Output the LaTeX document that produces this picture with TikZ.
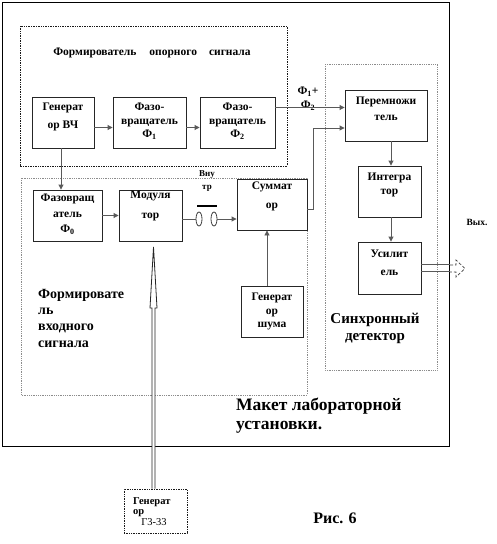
\documentclass[tikz,border=0pt]{standalone}
\usepackage{fontspec}
\setmainfont{Liberation Serif}
\usetikzlibrary{arrows.meta,shapes.geometric,calc}
\begin{document}
\begin{tikzpicture}[x=1pt,y=-1pt,
  box/.style={draw=black!85, line width=0.9pt, inner sep=0pt, fill=white},
  btxt/.style={font=\fontsize{11.5}{#1}\selectfont\bfseries, align=center, inner sep=0pt},
  btxt/.default=15,
  conn/.style={draw=black!65, line width=0.9pt},
  arr/.style={conn, -{Triangle[length=5pt,width=5pt]}},
  dotgray/.style={draw=black!45, densely dotted, line width=0.8pt},
  dotblack/.style={draw=black!90, densely dotted, line width=0.7pt},
  lbl/.style={font=\fontsize{#1}{#1}\selectfont\bfseries, inner sep=0pt}
]
\useasboundingbox (0,0) rectangle (497,544);
\fill[white] (0,0) rectangle (497,544);

% outer frame and group frames
\draw[black, line width=0.9pt] (2,2) rectangle (449,446);
\draw[dotblack] (20,26) rectangle (287,166);
\draw[dotgray] (21,178) rectangle (307,395);
\draw[dotgray] (325,64) rectangle (437,370);

% titles
\node[lbl=11.5] (ttop) at (152,53) {Формирователь\hspace{13pt}опорного\hspace{12pt}сигнала};
\node[align=left, anchor=north west, inner sep=0pt, font=\fontsize{14}{16.3}\selectfont\bfseries] (tin) at (38,289) {Формировате\\ль\\входного\\сигнала};
\node[align=center, inner sep=0pt, font=\fontsize{15}{17}\selectfont\bfseries] (tsd) at (375,328) {Синхронный\\детектор};
\node[align=left, anchor=north west, inner sep=0pt, font=\fontsize{17.5}{19}\selectfont\bfseries] (tmk) at (236,398) {Макет лабораторной\\установки.};
\node[lbl=16] (fig) at (335,518) {Рис. 6};
\node[lbl=9.5] (out) at (477,222) {Вых.};

% top group
\node[box, minimum width=62pt, minimum height=51pt,
  label={[btxt=18, name=gvcht, yshift=5.5pt]center:{Генерат\\ор ВЧ}}] (gvch) at (63,122.5) {};
\node[box, minimum width=73pt, minimum height=51pt,
  label={[btxt=13.5, name=f1t, yshift=1pt]center:{Фазо-\\вращатель\\Ф\textsubscript{1}}}] (f1) at (149.5,122.5) {};
\node[box, minimum width=75pt, minimum height=51pt,
  label={[btxt=13.5, name=f2t, yshift=1pt]center:{Фазо-\\вращатель\\Ф\textsubscript{2}}}] (f2) at (237.5,122.5) {};

% synchronous detector
\node[box, minimum width=82pt, minimum height=51pt,
  label={[btxt=16, name=multt, yshift=6.5pt]center:{Перемножи\\тель}}] (mult) at (386,115.5) {};
\node[box, minimum width=63pt, minimum height=51pt,
  label={[btxt=14, name=integt, yshift=6.5pt]center:{Интегра\\тор}}] (integ) at (389.5,191.5) {};
\node[box, minimum width=63pt, minimum height=52pt,
  label={[btxt=18, name=ampt, yshift=5pt]center:{Усилит\\ель}}] (amp) at (389.5,268) {};

% input group
\node[box, minimum width=69pt, minimum height=51pt,
  label={[btxt=15.5, name=f0t, yshift=1pt]center:{Фазовращ\\атель\\Ф\textsubscript{0}}}] (f0) at (67.5,215.5) {};
\node[box, minimum width=63pt, minimum height=51pt,
  label={[btxt=20, name=modt, yshift=9.5pt]center:{Модуля\\тор}}] (mod) at (150.5,215.5) {};
\node[box, minimum width=70pt, minimum height=51pt,
  label={[btxt=19, name=sumt, yshift=8pt]center:{Суммат\\ор}}] (sum) at (272,204.5) {};
\node[box, minimum width=62pt, minimum height=51pt,
  label={[btxt=13.5, name=gsht]center:{Генерат\\ор\\шума}}] (gsh) at (272,311.5) {};

% switch
\node[ellipse, draw=black!75, line width=0.8pt, minimum width=6pt, minimum height=14pt, inner sep=0pt] (s1) at (199,219) {};
\node[ellipse, draw=black!75, line width=0.8pt, minimum width=6pt, minimum height=14pt, inner sep=0pt] (s2) at (214,219) {};
\draw[black, line width=2.2pt] (197,206) -- (217,206);
\node[align=center, inner sep=0pt, font=\fontsize{9}{13}\selectfont\bfseries] (swt) at (207,181) {Вну\\тр};

% Phi1+Phi2 label
\node[align=center, inner sep=0pt, font=\fontsize{11.5}{14}\selectfont\bfseries] (phis) at (308,99) {Ф\textsubscript{1}+\\Ф\textsubscript{2}};

% external generator
\node[dotblack, minimum width=63pt, minimum height=44pt, inner sep=0pt, fill=white] (g33) at (155.5,511) {};
\node[align=left, anchor=north west, inner sep=0pt, font=\fontsize{10.5}{10}\selectfont\bfseries] (g33t) at (133,497) {Генерат\\ор};
\node[inner sep=0pt, font=\fontsize{10.5}{10}\selectfont] (g33n) at (154,522) {Г3-33};

% connectors
\draw[arr] ([yshift=-5pt]gvch.east) -- ([yshift=-5pt]gvch.east -| f1.west);
\draw[arr] ([yshift=-5pt]f1.east) -- ([yshift=-5pt]f1.east -| f2.west);
\draw[arr] ([yshift=15pt]f2.east) -- ([yshift=15pt]f2.east -| mult.west);
\draw[arr] ([xshift=-2pt]gvch.south) -- ([xshift=-2pt]gvch.south |- f0.north);
\draw[arr] (f0.east) -- (f0.east -| mod.west);
\draw[conn] ([yshift=-3.5pt]mod.east) -- ([yshift=-3.5pt]mod.east -| s1.west);
\draw[arr] (s2.east) -- (s2.east -| sum.west);
\draw[arr] ([xshift=-5pt]gsh.north) -- ([xshift=-5pt]gsh.north |- sum.south);
\coordinate (k) at (313,128);
\draw[arr] ([yshift=-4.5pt]sum.east) -| (k) -- (k -| mult.west);
\draw[arr] ([xshift=5pt]mult.south) -- ([xshift=5pt]mult.south |- integ.north);
\draw[arr] ([xshift=1.5pt]integ.south) -- ([xshift=1.5pt]integ.south |- amp.north);

% output double line with dashed hollow head
\coordinate (o) at (450,268.5);
\draw[conn] ([yshift=3.5pt]amp.east) -- ([yshift=3.5pt]amp.east -| o);
\draw[conn] ([yshift=-3.5pt]amp.east) -- ([yshift=-3.5pt]amp.east -| o);
\draw[black!75, line width=0.7pt, densely dashed] ($(o)+(0,-3.5)$) -- ($(o)+(6,-3.5)$) -- ($(o)+(6,-8.5)$) -- ($(o)+(15,0)$) -- ($(o)+(6,8.5)$) -- ($(o)+(6,3.5)$) -- ($(o)+(0,3.5)$);

% big hollow arrow from external generator to modulator
\coordinate (atip) at (153.5,247);
\coordinate (abase) at ([xshift=-2pt]g33.north);
\draw[black!85, line width=0.8pt, fill=white] ($(abase)+(-1.5,0)$) -- ($(atip)+(-1.5,61)$) -- ($(atip)+(-3.5,61)$) -- (atip) -- ($(atip)+(3.5,61)$) -- ($(atip)+(1.5,61)$) -- ($(abase)+(1.5,0)$);
\end{tikzpicture}
\end{document}
